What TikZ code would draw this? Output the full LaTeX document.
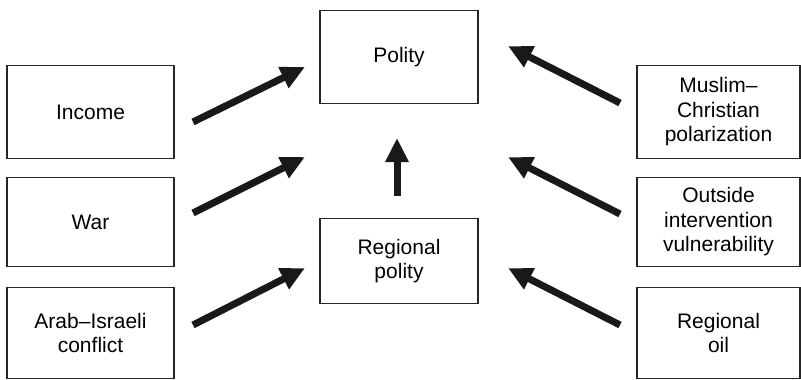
\documentclass[tikz,border=0pt]{standalone}
\usepackage{fontspec}
\setmainfont{Liberation Sans}
\usetikzlibrary{arrows.meta}
\begin{document}
\begin{tikzpicture}[x=1pt,y=-1pt,
  box/.style={draw=black!85, line width=1.3pt, minimum width=#1, align=center, font=\fontsize{21}{24.5}\selectfont, inner sep=0pt},
  box/.default=167pt,
  bigarrow/.style={line width=7pt, -{Triangle[length=24pt,width=22pt]}, black!90}]
\useasboundingbox (0,0) rectangle (801,380);
\node[box, minimum height=93pt] (inc) at (90.5,112) {Income};
\node[box, minimum height=89pt] (war) at (90.5,222) {War};
\node[box, minimum height=91pt] (arab) at (90.5,333) {Arab–Israeli\\conflict};
\node[box=158pt, minimum height=93pt] (pol) at (399,57) {Polity};
\node[box=158pt, minimum height=85pt] (rpol) at (399,261) {Regional\\polity};
\node[box=163pt, minimum height=93pt] (mus) at (718.5,112) {Muslim–\\Christian\\polarization};
\node[box=163pt, minimum height=89pt] (out) at (718.5,222) {Outside\\intervention\\vulnerability};
\node[box=163pt, minimum height=91pt] (oil) at (718.5,333) {Regional\\oil};
\coordinate (l1s) at (193,122); \coordinate (l1e) at (305,67);
\coordinate (l2s) at (193,213); \coordinate (l2e) at (305,157);
\coordinate (l3s) at (193,325); \coordinate (l3e) at (305,268);
\coordinate (cs) at (397,196); \coordinate (ce) at (397,138);
\coordinate (r1s) at (620,103); \coordinate (r1e) at (508,46);
\coordinate (r2s) at (620,214); \coordinate (r2e) at (508,157);
\coordinate (r3s) at (620,325); \coordinate (r3e) at (508,268);
\foreach \a/\b in {l1s/l1e,l2s/l2e,l3s/l3e,cs/ce,r1s/r1e,r2s/r2e,r3s/r3e}
  \draw[bigarrow] (\a) -- (\b);
\end{tikzpicture}
\end{document}
